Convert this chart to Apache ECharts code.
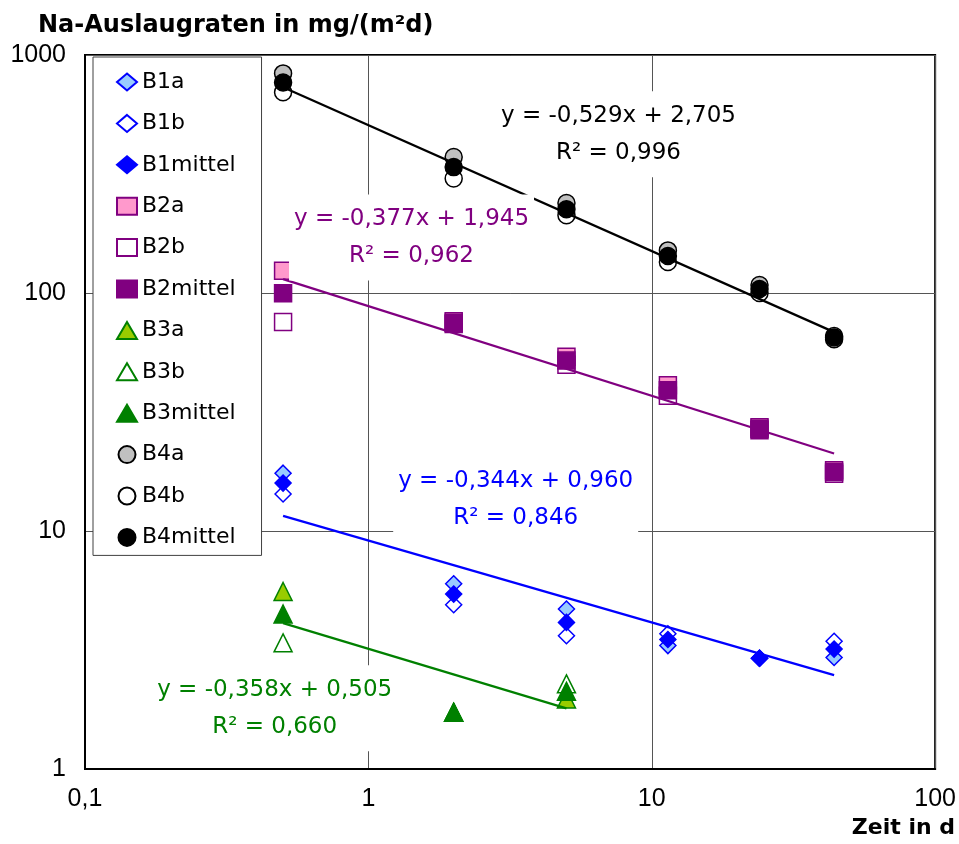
<!DOCTYPE html>
<html>
<head>
<meta charset="utf-8">
<title>Na-Auslaugraten</title>
<script src="https://cdn.jsdelivr.net/npm/echarts@6/dist/echarts.min.js"></script>
<style>
  html, body { margin: 0; padding: 0; background: #fff; }
  #chart { width: 959px; height: 844px; }
</style>
</head>
<body>
<div id="chart"></div>
<script>
// Zeit in d
var days = [0.5, 2, 5, 11.4, 24, 44];
var daysB3 = [0.5, 2, 5];

// Na-Auslaugraten in mg/(m2d)
var b1a = [17.5, 6.0, 4.7, 3.3, 2.92, 2.94];
var b1b = [14.3, 4.9, 3.63, 3.7, 2.92, 3.44];
var b1mittel = [15.9, 5.43, 4.13, 3.5, 2.92, 3.19];

var b2a = [124, 76, 54, 41, 27.3, 18];
var b2b = [75.5, 74, 50, 37, 26.5, 17.4];
var b2mittel = [99.7, 75, 52, 39, 26.9, 17.7];

var b3a = [5.57, 1.73, 1.97];
var b3b = [3.39, 1.73, 2.28];
var b3mittel = [4.48, 1.73, 2.12];

var b4a = [837, 373, 239, 151, 108, 66];
var b4b = [697, 303, 212, 135, 100, 64];
var b4mittel = [767, 338, 225, 143, 104, 65];

var seriesNames = ['B1a', 'B1b', 'B1mittel', 'B2a', 'B2b', 'B2mittel',
                   'B3a', 'B3b', 'B3mittel', 'B4a', 'B4b', 'B4mittel'];

// Trendlinien im log-log: log(y) = slope * log(x) + intercept
var trendSlope = [-0.344, -0.377, -0.358, -0.529];
var trendIntercept = [0.960, 1.945, 0.505, 2.705];
var trendR2 = [0.846, 0.962, 0.660, 0.996];
var trendFrom = [0.5, 0.5, 0.5, 0.5];
var trendTo = [44, 44, 5, 44];

var chart = echarts.init(document.getElementById('chart'));

// Stil je Gruppe B1..B4
var groups = [
    { x: days,   vals: [b1a, b1b, b1mittel], color: '#0000ff', light: '#99ccff', symbol: 'diamond', size: 16 },
    { x: days,   vals: [b2a, b2b, b2mittel], color: '#800080', light: '#ff99cc', symbol: 'rect', size: 17 },
    { x: daysB3, vals: [b3a, b3b, b3mittel], color: '#008000', light: '#99cc00', symbol: 'triangle', size: 18 },
    { x: days,   vals: [b4a, b4b, b4mittel], color: '#000000', light: '#c0c0c0', symbol: 'circle', size: 17 }
];
// Lage der Gleichungen (Datenkoordinaten, Mitte des Textfelds)
var eqAnchor = [[3.31, 13.6], [1.42, 171], [0.467, 1.80], [7.63, 464]];

function fmt(v) {
    return v.toFixed(3).replace('.', ',');
}

var series = [];
groups.forEach(function (g, gi) {
    var fills = [g.light, '#ffffff', g.color];
    g.vals.forEach(function (vals, k) {
        series.push({
            name: seriesNames[gi * 3 + k],
            type: 'scatter',
            symbol: g.symbol,
            symbolSize: g.size,
            z: 2,
            itemStyle: { color: fills[k], borderColor: g.color, borderWidth: 1.5, opacity: 1 },
            data: g.x.map(function (d, i) { return [d, vals[i]]; })
        });
    });
});

// Trendlinien
groups.forEach(function (g, gi) {
    var f = function (x) { return Math.pow(10, trendIntercept[gi] + trendSlope[gi] * Math.log10(x)); };
    series.push({
        type: 'line',
        z: 3,
        showSymbol: false,
        silent: true,
        lineStyle: { color: g.color, width: 2.2 },
        data: [[trendFrom[gi], f(trendFrom[gi])], [trendTo[gi], f(trendTo[gi])]]
    });
});

// Gleichungen mit weissem Hintergrund
groups.forEach(function (g, gi) {
    series.push({
        type: 'scatter',
        z: 5,
        silent: true,
        symbolSize: 1,
        itemStyle: { color: '#ffffff', borderWidth: 0 },
        label: {
            show: true,
            position: 'inside',
            formatter: 'y = ' + fmt(trendSlope[gi]) + 'x + ' + fmt(trendIntercept[gi]) + '\nR² = ' + fmt(trendR2[gi]),
            color: g.color,
            opacity: 1,
            textBorderWidth: 0,
            textShadowBlur: 0,
            fontFamily: 'DejaVu Sans',
            fontSize: 23,
            lineHeight: 37,
            align: 'center',
            backgroundColor: '#ffffff',
            padding: [6, 5]
        },
        data: [eqAnchor[gi]]
    });
});

chart.setOption({
    animation: false,
    backgroundColor: '#ffffff',
    title: [
        {
            text: 'Na-Auslaugraten in mg/(m²d)',
            left: 38, top: 14, padding: 0,
            textStyle: { fontFamily: 'DejaVu Sans', fontWeight: 'bold', fontSize: 24, color: '#000' }
        },
        {
            text: 'Zeit in d',
            right: 4, top: 817, padding: 0,
            textStyle: { fontFamily: 'DejaVu Sans', fontWeight: 'bold', fontSize: 22, color: '#000' }
        }
    ],
    legend: {
        orient: 'vertical',
        left: 93,
        top: 57,
        data: seriesNames,
        itemWidth: 20,
        itemHeight: 17,
        itemGap: 19.4,
        padding: [14, 26, 7, 23],
        backgroundColor: '#ffffff',
        borderColor: '#404040',
        borderWidth: 1,
        selectedMode: false,
        textStyle: { fontFamily: 'DejaVu Sans', fontSize: 22, lineHeight: 22, color: '#000' }
    },
    grid: {
        left: 85, right: 21, top: 55, bottom: 75,
        show: true, borderColor: '#000', borderWidth: 2
    },
    xAxis: {
        type: 'log',
        logBase: 10,
        min: 0.1,
        max: 100,
        axisLine: { show: true, onZero: false, lineStyle: { color: '#000', width: 2 } },
        axisTick: { show: false },
        axisLabel: {
            fontFamily: 'Liberation Sans', fontSize: 25, color: '#000', margin: 18,
            showMinLabel: true, showMaxLabel: true,
            formatter: function (v) { return String(+v.toPrecision(4)).replace('.', ','); }
        },
        splitLine: { show: true, lineStyle: { color: '#555', width: 1 } }
    },
    yAxis: {
        type: 'log',
        logBase: 10,
        min: 1,
        max: 1000,
        axisLine: { show: true, onZero: false, lineStyle: { color: '#000', width: 2 } },
        axisTick: { show: false },
        axisLabel: {
            fontFamily: 'Liberation Sans', fontSize: 25, color: '#000', margin: 19,
            showMinLabel: true, showMaxLabel: true,
            formatter: function (v) { return String(+v.toPrecision(4)); }
        },
        splitLine: { show: true, lineStyle: { color: '#555', width: 1 } }
    },
    series: series
});
</script>
</body>
</html>
